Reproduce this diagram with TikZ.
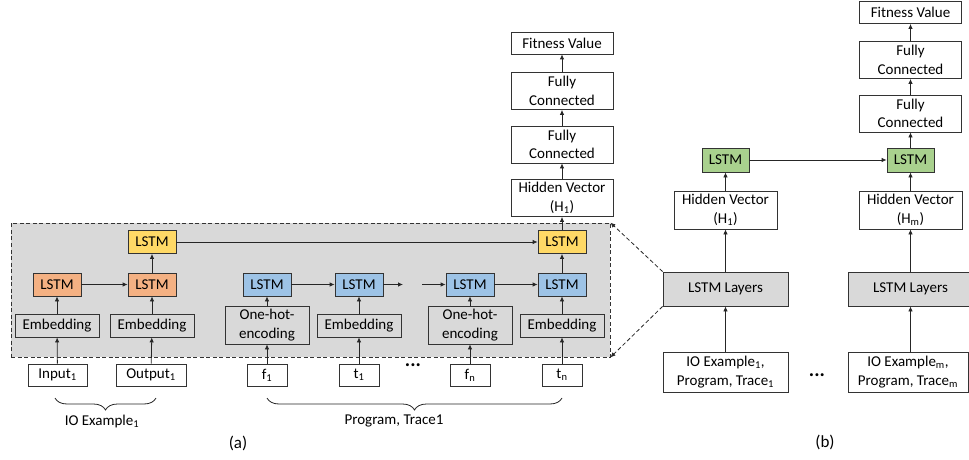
\documentclass[tikz,border=0pt]{standalone}
\usepackage{fontspec}
\setmainfont{Carlito}
\usepackage{xcolor}
\usetikzlibrary{arrows.meta}
\usetikzlibrary{decorations.pathreplacing,positioning}
\definecolor{O}{RGB}{244,177,131}
\definecolor{B}{RGB}{157,195,230}
\definecolor{Y}{RGB}{255,217,102}
\definecolor{G}{RGB}{169,209,142}
\definecolor{GR}{RGB}{217,217,217}
\tikzstyle{cell} = [rectangle, draw=black!80, line width=0.8pt,
minimum width=48pt, minimum height=23pt, inner sep=1pt, align=center]
\tikzstyle{enc} = [cell, minimum width=84pt]
\tikzstyle{tok} = [cell, minimum width=40pt, minimum height=22pt, fill=white]
\tikzstyle{dense} = [cell, minimum width=102pt, minimum height=37pt, fill=white]
\tikzstyle{zoombox} = [rectangle, draw=black!80, line width=0.8pt, fill=GR,
dash pattern=on 4pt off 2.5pt, minimum width=599pt, minimum height=134pt]
\tikzstyle{arrow} = [->, line width=0.8pt, draw=black!85]
\tikzstyle{link} = [->, line width=0.8pt, draw=black!85, dash pattern=on 4pt off 2.5pt]
\tikzstyle{brc} = [decorate, decoration={brace, mirror, amplitude=12pt}, line width=0.8pt, draw=black!85]
\tikzstyle{skip} = [font=\fontsize{20}{20}\selectfont\bfseries]

\begin{document}
\begin{tikzpicture}[
    x=1pt, y=1pt,
    >={Latex[length=5pt,width=4.5pt]},
    font=\fontsize{15}{18.5}\selectfont,
  ]
    \useasboundingbox (0,0) rectangle (969,459);

    % (a) grey area
    \node[zoombox] (grp) at (310.5,169) {};

    \node[cell, fill=Y] (lstmY1) at (152,217) {LSTM};
    \node[cell, fill=Y] (lstmY2) at (562,217) {LSTM};

    \node[cell, fill=O] (lstmO1) at (57,174.5)  {LSTM};
    \node[cell, fill=O] (lstmO2) at (152,174.5) {LSTM};
    \node[cell, fill=B] (lstmB1) at (267,174.5) {LSTM};
    \node[cell, fill=B] (lstmB2) at (359,174.5) {LSTM};
    \node[cell, fill=B] (lstmB3) at (470,174.5) {LSTM};
    \node[cell, fill=B] (lstmB4) at (562,174.5) {LSTM};

    \node[enc] (embI)  at (57,133.5)  {Embedding};
    \node[enc] (embO)  at (152,133.5) {Embedding};
    \node[enc, minimum height=38pt] (ohe1) at (267,134) {One-hot-\\encoding};
    \node[enc] (embT1) at (359,133.5) {Embedding};
    \node[enc, minimum height=38pt] (ohen) at (470,134) {One-hot-\\encoding};
    \node[enc] (embTn) at (562,133.5) {Embedding};

    \node[tok, minimum width=59pt] (in1)  at (57.5,84) {Input\textsubscript{1}};
    \node[tok, minimum width=70pt] (out1) at (151,84)  {Output\textsubscript{1}};
    \node[tok] (f1) at (267,84) {f\textsubscript{1}};
    \node[tok] (t1) at (359,84) {t\textsubscript{1}};
    \node[tok] (fn) at (470,84) {f\textsubscript{n}};
    \node[tok] (tn) at (562,84) {t\textsubscript{n}};
    \node[skip] (dotsA) at (413,94) {...};

    \node[dense] (hidA) at (562,261)   {Hidden Vector\\(H\textsubscript{1})};
    \node[dense] (fc2A) at (562,314.5) {Fully\\Connected};
    \node[dense] (fc1A) at (562,368)   {Fully\\Connected};
    \node[dense, minimum height=22pt] (fitA) at (562,416) {Fitness Value};

    \coordinate (gapL) at (403,174.5);
    \coordinate (gapR) at (422,174.5);

    \draw[arrow] (in1) -- (embI);
    \draw[arrow] (out1) -- (embO);
    \draw[arrow] (f1) -- (ohe1);
    \draw[arrow] (t1) -- (embT1);
    \draw[arrow] (fn) -- (ohen);
    \draw[arrow] (tn) -- (embTn);

    \draw[arrow] (embI) -- (lstmO1);
    \draw[arrow] (embO) -- (lstmO2);
    \draw[arrow] (ohe1) -- (lstmB1);
    \draw[arrow] (embT1) -- (lstmB2);
    \draw[arrow] (ohen) -- (lstmB3);
    \draw[arrow] (embTn) -- (lstmB4);

    \draw[arrow] (lstmO1) -- (lstmO2);
    \draw[arrow] (lstmB1) -- (lstmB2);
    \draw[arrow] (lstmB2) -- (gapL);
    \draw[arrow] (gapR) -- (lstmB3);
    \draw[arrow] (lstmB3) -- (lstmB4);

    \draw[arrow] (lstmO2) -- (lstmY1);
    \draw[arrow] (lstmB4) -- (lstmY2);
    \draw[arrow] (lstmY1) -- (lstmY2);

    \draw[arrow] (lstmY2) -- (hidA);
    \draw[arrow] (hidA) -- (fc2A);
    \draw[arrow] (fc2A) -- (fc1A);
    \draw[arrow] (fc1A) -- (fitA);

    \draw[brc] (55,61) -- (156,61);
    \draw[brc] (267,61) -- (562,61);
    \node (ioLbl)   at (102,38) {IO Example\textsubscript{1}};
    \node (progLbl) at (394,38) {Program, Trace1};
    \node[font=\fontsize{17}{20}\selectfont] (capA) at (238,16) {(a)};

    % (b)
    \node[dense, minimum height=22pt] (fitB) at (910.5,446.5) {Fitness Value};
    \node[dense] (fc1B) at (910.5,399)   {Fully\\Connected};
    \node[dense] (fc2B) at (910.5,345.5) {Fully\\Connected};

    \node[cell, fill=G, minimum width=47pt, minimum height=24pt] (lstmG1) at (725.5,299) {LSTM};
    \node[cell, fill=G, minimum width=47pt, minimum height=24pt] (lstmG2) at (910.5,299) {LSTM};

    \node[dense, minimum width=103pt, minimum height=38pt] (hidB1) at (725.5,249) {Hidden Vector\\(H\textsubscript{1})};
    \node[dense, minimum width=103pt, minimum height=38pt] (hidBm) at (910.5,249) {Hidden Vector\\(H\textsubscript{m})};

    \node[cell, fill=GR, minimum width=125pt, minimum height=34pt] (layB1) at (725.5,170) {LSTM Layers};
    \node[cell, fill=GR, minimum width=125pt, minimum height=34pt] (layBm) at (910.5,170) {LSTM Layers};

    \node[cell, fill=white, minimum width=125pt, minimum height=40pt] (ioB1) at (725.5,87) {IO Example\textsubscript{1},\\Program, Trace\textsubscript{1}};
    \node[cell, fill=white, minimum width=120pt, minimum height=40pt] (ioBm) at (908,87) {IO Example\textsubscript{m},\\Program, Trace\textsubscript{m}};
    \node[skip] (dotsB) at (817,84) {...};

    \draw[arrow] (ioB1) -- (layB1);
    \draw[arrow] (ioBm.north -| layBm) -- (layBm);
    \draw[arrow] (layB1) -- (hidB1);
    \draw[arrow] (layBm) -- (hidBm);
    \draw[arrow] (hidB1) -- (lstmG1);
    \draw[arrow] (hidBm) -- (lstmG2);
    \draw[arrow] (lstmG1) -- (lstmG2);
    \draw[arrow] (lstmG2) -- (fc2B);
    \draw[arrow] (fc2B) -- (fc1B);
    \draw[arrow] (fc1B) -- (fitB);

    \draw[link] (layB1.north west) -- (grp.north east);
    \draw[link] (layB1.south west) -- (grp.south east);

    \node[font=\fontsize{17}{20}\selectfont] (capB) at (825,17) {(b)};
  \end{tikzpicture}
\end{document}
